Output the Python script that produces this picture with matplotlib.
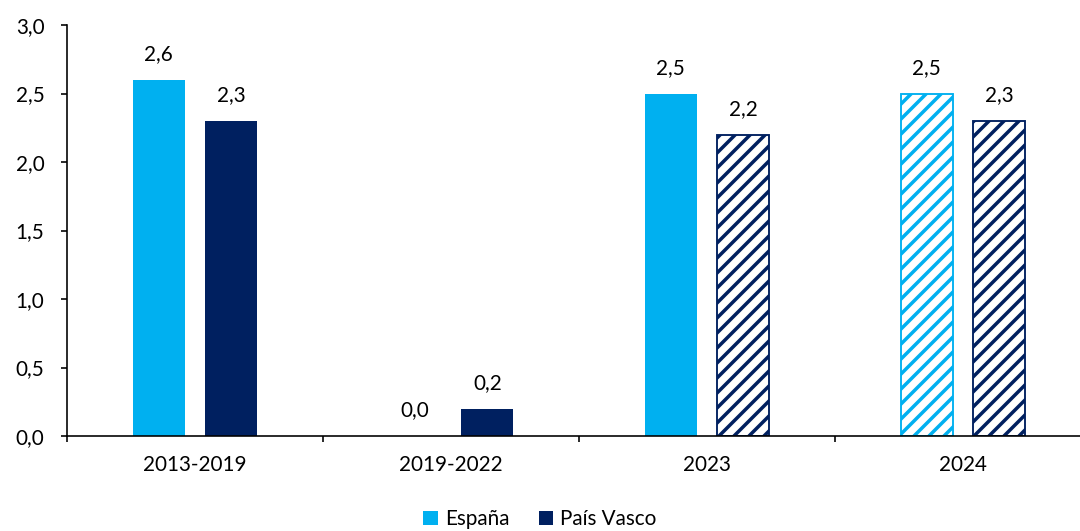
import matplotlib.pyplot as plt
import numpy as np
from matplotlib.patches import Patch

periodos = ["2013-2019", "2019-2022", "2023", "2024"]
espana = [2.6, 0.0, 2.5, 2.5]
pais_vasco = [2.3, 0.2, 2.2, 2.3]
# which bars are drawn hatched (forecasts)
espana_prev = [False, False, False, True]
pv_prev = [False, False, True, True]

AZUL_CLARO = "#00B0F0"
AZUL_OSCURO = "#002060"
FS = 16.5

plt.rcParams["font.family"] = ["Lato", "DejaVu Sans"]
plt.rcParams["hatch.linewidth"] = 2.8

fig = plt.figure(figsize=(12, 5.9), dpi=90)
ax = fig.add_axes([67 / 1080, 95 / 531, 1024 / 1080, 411 / 531])

x = np.arange(len(periodos))
ancho = 0.203
desp = 0.142


def dibujar(vals, prev, offset, color):
    for xi, v, p in zip(x, vals, prev):
        if p:
            ax.bar(xi + offset, v, ancho, facecolor="white", edgecolor=color,
                   hatch="//", linewidth=1.5)
        else:
            ax.bar(xi + offset, v, ancho, color=color, linewidth=0)
        ax.annotate(f"{v:.1f}".replace(".", ","), (xi + offset, v),
                    xytext=(0, 12.5), textcoords="offset points",
                    ha="center", va="bottom", fontsize=FS)


dibujar(espana, espana_prev, -desp, AZUL_CLARO)
dibujar(pais_vasco, pv_prev, desp, AZUL_OSCURO)

ax.set_xlim(-0.5, 3.5)
ax.set_ylim(0, 3.0)
ax.set_yticks(np.arange(0, 3.01, 0.5))
ax.set_yticklabels([f"{t:.1f}".replace(".", ",") for t in np.arange(0, 3.01, 0.5)])
ax.set_xticks(x)
ax.set_xticklabels(periodos)
ax.set_xticks(np.arange(-0.5, 3.6, 1), minor=True)
ax.tick_params(axis="x", which="major", length=0, pad=15, labelsize=FS)
ax.tick_params(axis="x", which="minor", length=5, width=1.3, direction="out")
ax.tick_params(axis="y", length=5, width=1.3, labelsize=FS, pad=13)

for s in ["top", "right"]:
    ax.spines[s].set_visible(False)
for s in ["left", "bottom"]:
    ax.spines[s].set_linewidth(1.3)

handles = [Patch(facecolor=AZUL_CLARO, label="España"),
           Patch(facecolor=AZUL_OSCURO, label="País Vasco")]
fig.legend(handles=handles, loc="center", bbox_to_anchor=(0.5, 0.022), ncol=2,
           frameon=False, fontsize=FS, handlelength=0.7, handleheight=0.7,
           handletextpad=0.35, columnspacing=1.4)

fig.savefig("out.png", dpi=90)
